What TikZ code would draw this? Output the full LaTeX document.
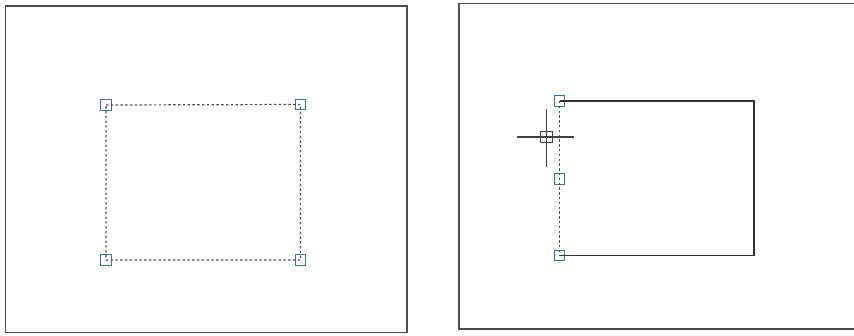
\documentclass[tikz,border=0pt]{standalone}
\begin{document}
\begin{tikzpicture}[x=1pt,y=-1pt,
  frame/.style={draw=black!70, line width=1.3pt},
  grip/.style={draw=gripblue, line width=1.4pt, rectangle, minimum size=10.5pt, inner sep=0pt},
  dashedge/.style={draw=black!70, line width=1.2pt, dash pattern=on 2.4pt off 2.4pt},
  solidedge/.style={draw=black!80, line width=1.1pt},
  cursorline/.style={draw=black!75, line width=1.1pt}]
\definecolor{gripblue}{HTML}{3E6FA8}
\useasboundingbox (0,0) rectangle (854,335);
% frames
\draw[frame] (5.5,6) rectangle (407,332.5);
\draw[frame] (860,3.5) -- (459,3.5) -- (459,329) -- (860,329);
% left: dashed selected rectangle
\node[grip] (la) at (106,105) {};
\node[grip] (lb) at (300.5,104.5) {};
\node[grip] (lc) at (300.5,260) {};
\node[grip] (ld) at (106,260) {};
\draw[dashedge] (la.center) -- (lb.center) -- (lc.center) -- (ld.center) -- cycle;
% right: stretched rectangle
\coordinate (rb) at (754,101);
\coordinate (rc) at (754,255.5);
\node[grip] (ra) at (559.5,101) {};
\node[grip] (rm) at (559.5,179) {};
\node[grip] (rd) at (559.5,255.5) {};
\draw[solidedge] (ra.center) -- (rb) -- (rc) -- (rd.center);
\draw[dashedge] (ra.center) -- (rm.center) -- (rd.center);
% cursor
\node[draw=black!75, line width=1.1pt, rectangle, minimum size=11.5pt, inner sep=0pt] (cur) at (546.5,137) {};
\coordinate (chl) at (517,137);
\coordinate (chr) at (574,137);
\coordinate (cvt) at (546.5,109);
\coordinate (cvb) at (546.5,167);
\draw[cursorline] (chl) -- (chr);
\draw[cursorline] (cvt) -- (cvb);
\end{tikzpicture}
\end{document}
